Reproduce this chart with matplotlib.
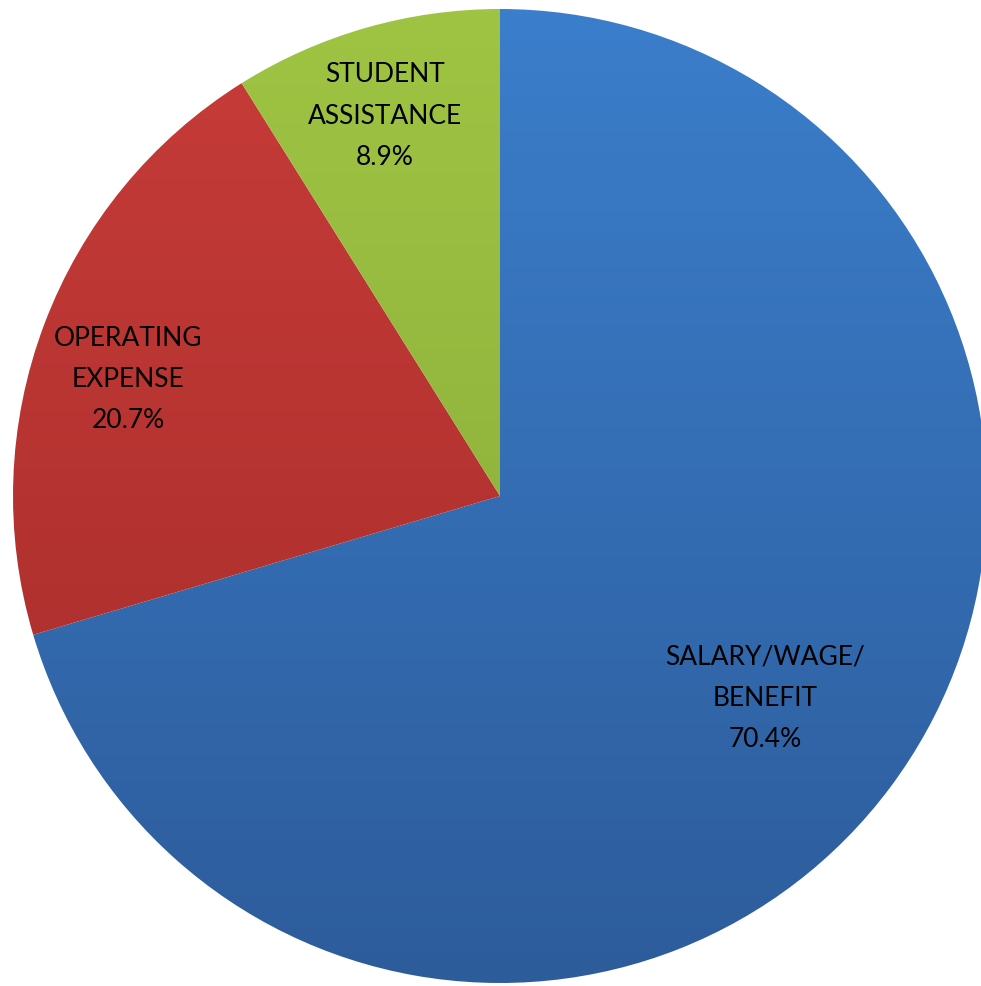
import numpy as np
import matplotlib.pyplot as plt
from matplotlib.colors import LinearSegmentedColormap

# Data
categories = ["SALARY/WAGE/\nBENEFIT", "OPERATING\nEXPENSE", "STUDENT\nASSISTANCE"]
shares = [70.4, 20.7, 8.9]

# Gradient colours (top, bottom) for each slice
grad_colors = [("#3b7ecb", "#2d5c9b"), ("#c73c39", "#a32b29"), ("#9fc443", "#85a737")]
# label placement: fraction of radius, angle shift from slice middle (deg)
label_radius = [0.685, 0.80, 0.815]
label_shift = [-0.6, 3.3, 0.8]

W, H = 981, 986
cx, cy, R = 500, 986 - 496, 487

fig = plt.figure(figsize=(W / 100, H / 100), dpi=100)
ax = fig.add_axes([0, 0, 1, 1])

wedges, _ = ax.pie(shares, startangle=90, counterclock=False, center=(cx, cy),
                   radius=R, frame=True, wedgeprops=dict(linewidth=0))
ax.set_xlim(0, W)
ax.set_ylim(0, H)
ax.set_aspect("equal")
ax.axis("off")

grad = np.linspace(1, 0, 256).reshape(-1, 1)
for w, (top, bot), name, val, lr, sh in zip(wedges, grad_colors, categories, shares,
                                           label_radius, label_shift):
    w.set_facecolor("none")
    cmap = LinearSegmentedColormap.from_list("g", [bot, top])
    im = ax.imshow(grad, cmap=cmap, extent=(cx - R, cx + R, cy - R, cy + R),
                   origin="upper", aspect="auto", zorder=1)
    im.set_clip_path(w)
    mid = np.deg2rad((w.theta1 + w.theta2) / 2 + sh)
    tx = cx + lr * R * np.cos(mid)
    ty = cy + lr * R * np.sin(mid)
    ax.text(tx, ty, "{}\n{:.1f}%".format(name, val), ha="center", va="center",
            fontsize=19, family="Lato", linespacing=1.82, color="black", zorder=3)

ax.set_xlim(0, W)
ax.set_ylim(0, H)
fig.savefig("out.png", dpi=100, facecolor="white")
